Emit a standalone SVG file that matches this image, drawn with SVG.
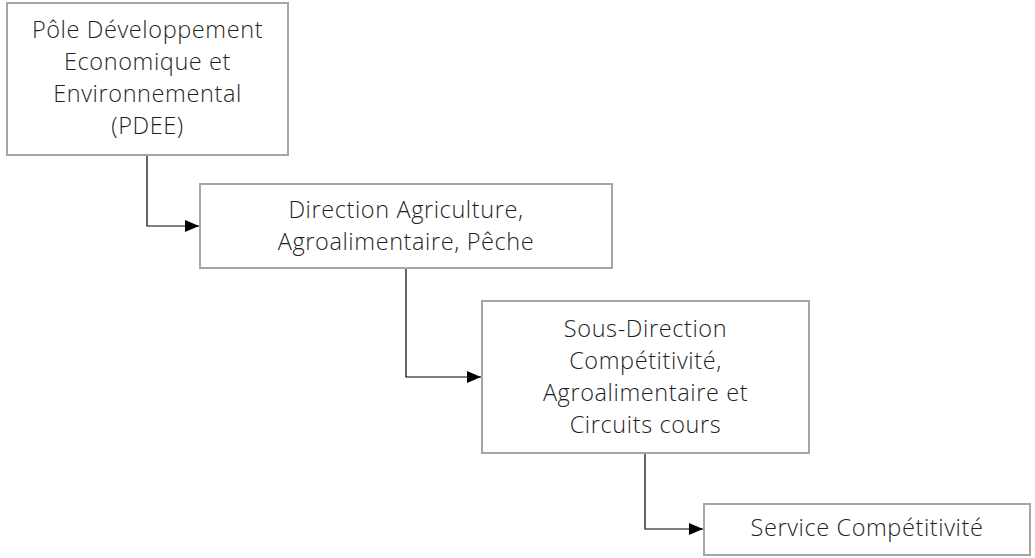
<svg xmlns="http://www.w3.org/2000/svg" width="1035" height="558" viewBox="0 0 1035 558">
<style>
.box{fill:#ffffff;stroke:#a6a6a6;stroke-width:2}
.t{font-family:"Open Sans","Liberation Sans",sans-serif;font-weight:300;font-size:23.5px;letter-spacing:0.6px;fill:#1f1f1f;text-anchor:middle}
.c{fill:none;stroke:#000000;stroke-width:1.2}
</style>
<defs>
<marker id="arr" markerWidth="14" markerHeight="12" refX="14" refY="6" orient="auto" markerUnits="userSpaceOnUse">
<path d="M0,0 L14,6 L0,12 Z" fill="#000000"/>
</marker>
</defs>
<g id="connectors">
<path class="c" d="M147,155 V226 H199" marker-end="url(#arr)"/>
<path class="c" d="M406,268 V377 H481" marker-end="url(#arr)"/>
<path class="c" d="M645,453 V529 H703" marker-end="url(#arr)"/>
</g>
<g id="pdee">
<rect class="box" x="7" y="3" width="281" height="152"/>
<text class="t" x="147.5" y="38">Pôle Développement</text>
<text class="t" x="147.5" y="70">Economique et</text>
<text class="t" x="147.5" y="102">Environnemental</text>
<text class="t" x="147.5" y="134">(PDEE)</text>
</g>
<g id="direction">
<rect class="box" x="200" y="184" width="412" height="84"/>
<text class="t" x="406" y="218">Direction Agriculture,</text>
<text class="t" x="406" y="250">Agroalimentaire, Pêche</text>
</g>
<g id="sous-direction">
<rect class="box" x="482" y="301" width="327" height="152"/>
<text class="t" x="645.5" y="337">Sous-Direction</text>
<text class="t" x="645.5" y="369">Compétitivité,</text>
<text class="t" x="645.5" y="401">Agroalimentaire et</text>
<text class="t" x="645.5" y="433">Circuits cours</text>
</g>
<g id="service">
<rect class="box" x="704" y="504" width="326" height="51"/>
<text class="t" x="867" y="536">Service Compétitivité</text>
</g>
</svg>
